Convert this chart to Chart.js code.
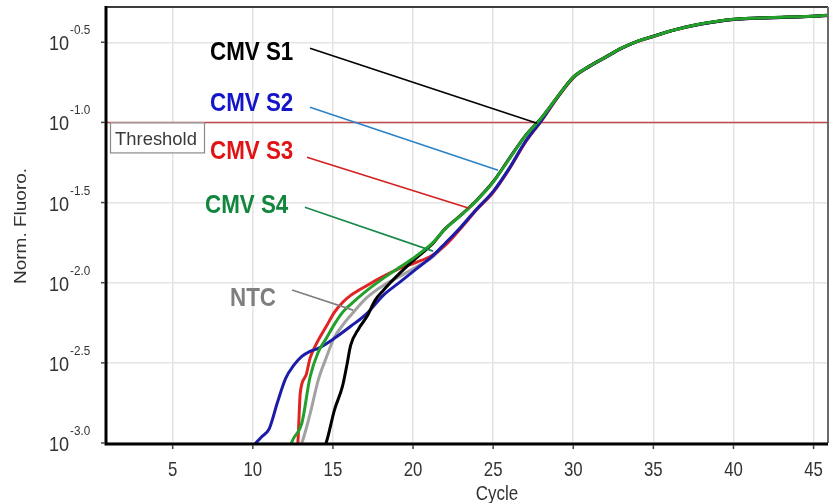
<!DOCTYPE html>
<html lang="en">
<head>
<meta charset="UTF-8">
<title>Norm. Fluoro. - Cycle</title>
<script src="https://cdn.jsdelivr.net/npm/chart.js@4"></script>
<style>
  html, body { margin: 0; padding: 0; background: #fff; }
</style>
</head>
<body>
<canvas id="pcrChart" width="831" height="503"></canvas>

<script>
// tick positions
var xTicks = [5, 10, 15, 20, 25, 30, 35, 40, 45];
var yTickExps = [-3.0, -2.5, -2.0, -1.5, -1.0, -0.5];
var yTickLabels = ['-3.0', '-2.5', '-2.0', '-1.5', '-1.0', '-0.5'];
var thresholdExp = -1.0;

// cycles of the part where all curves run together
var tailCycles = [22, 23, 24, 25, 26, 27, 28, 29, 30, 31, 32, 33, 34, 35, 36, 37, 38, 39, 40, 41, 42, 43, 44, 45, 45.9];

// CMV S1 (black) - values are log10(Norm. Fluoro.)
var s1Cycles = [14.08, 14.59, 15.09, 15.6, 15.86, 16.11, 16.62, 17.13, 17.63, 18.14, 19.16, 20.17, 21.19].concat(tailCycles);
var s1Log = [-3.1, -2.995, -2.796, -2.645, -2.52, -2.39, -2.285, -2.21, -2.11, -2.048, -1.942, -1.848, -1.76,
  -1.664, -1.577, -1.482, -1.37, -1.226, -1.084, -0.973, -0.842, -0.717, -0.649, -0.593, -0.537, -0.494, -0.462,
  -0.431, -0.405, -0.385, -0.369, -0.357, -0.35, -0.347, -0.344, -0.341, -0.337, -0.332];

// CMV S2 (blue)
var s2Cycles = [9.51, 10.02, 10.52, 11.03, 11.54, 12.05, 12.55, 13.06, 13.57, 14.08, 15.09, 16.11, 17.13, 18.14,
  19.16, 20.17, 21.19].concat(tailCycles);
var s2Log = [-3.2, -3.03, -2.965, -2.91, -2.746, -2.597, -2.516, -2.46, -2.428, -2.41, -2.347, -2.272, -2.191,
  -2.079, -1.998, -1.917, -1.836,
  -1.755, -1.652, -1.538, -1.432, -1.288, -1.122, -0.99, -0.845, -0.72, -0.651, -0.595, -0.538, -0.494, -0.463,
  -0.432, -0.406, -0.386, -0.37, -0.358, -0.351, -0.348, -0.345, -0.342, -0.338, -0.333];

// CMV S3 (red)
var s3Cycles = [12.55, 12.81, 12.96, 13.32, 13.57, 14.08, 14.59, 15.09, 15.6, 16.11, 17.13, 18.14, 19.16, 20.17,
  21.19].concat(tailCycles);
var s3Log = [-3.1, -3.0, -2.69, -2.578, -2.472, -2.36, -2.272, -2.185, -2.123, -2.079, -2.017, -1.961, -1.911,
  -1.874, -1.83,
  -1.768, -1.658, -1.542, -1.437, -1.292, -1.126, -0.992, -0.848, -0.722, -0.652, -0.596, -0.539, -0.495, -0.464,
  -0.432, -0.407, -0.386, -0.37, -0.358, -0.351, -0.348, -0.345, -0.342, -0.338, -0.333];

// CMV S4 (green)
var s4Cycles = [12.05, 12.55, 13.06, 13.57, 14.08, 14.59, 15.09, 15.6, 16.11, 17.13, 18.14, 19.16, 20.17,
  21.19].concat(tailCycles);
var s4Log = [-3.08, -2.97, -2.877, -2.59, -2.434, -2.347, -2.26, -2.185, -2.135, -2.048, -1.973, -1.904, -1.836,
  -1.755,
  -1.666, -1.579, -1.485, -1.373, -1.229, -1.086, -0.975, -0.843, -0.718, -0.65, -0.594, -0.537, -0.494, -0.463,
  -0.431, -0.406, -0.385, -0.369, -0.357, -0.35, -0.347, -0.344, -0.341, -0.337, -0.332];

// NTC (grey)
var ntcCycles = [12.55, 13.06, 13.57, 14.08, 14.59, 15.09, 15.6, 16.11, 17.13, 18.14, 19.16, 20.17,
  21.19].concat(tailCycles);
var ntcLog = [-3.1, -3.0, -2.82, -2.609, -2.466, -2.341, -2.266, -2.204, -2.092, -2.017, -1.961, -1.904, -1.842,
  -1.762, -1.65, -1.536, -1.43, -1.285, -1.12, -0.99, -0.846, -0.721, -0.652, -0.596, -0.539, -0.495, -0.464,
  -0.432, -0.407, -0.386, -0.37, -0.358, -0.351, -0.348, -0.345, -0.342, -0.338, -0.333];

// turn cycle / log10 pairs into points for the log axis
function toPoints(cycles, logs) {
    return cycles.map(function(c, i) {
        return { x: c, y: Math.pow(10, logs[i]) };
    });
}

function curve(cycles, logs, color) {
    return {
        data: toPoints(cycles, logs),
        borderColor: color,
        borderWidth: 3,
        pointRadius: 0,
        fill: false,
        cubicInterpolationMode: 'monotone'
    };
}

// label text, colours, where the label sits and where its pointer line runs (cycle, log10)
var callouts = [
    { text: 'CMV S1', color: '#000000', line: '#000000', at: [7.33, -0.612], from: [13.57, -0.537], to: [27.74, -1.005] },
    { text: 'CMV S2', color: '#1414c8', line: '#2b83c6', at: [7.33, -0.930], from: [13.57, -0.905], to: [25.31, -1.298] },
    { text: 'CMV S3', color: '#e01414', line: '#d42020', at: [7.33, -1.229], from: [13.38, -1.217], to: [23.5, -1.535] },
    { text: 'CMV S4', color: '#12863c', line: '#1a8a4a', at: [7.02, -1.566], from: [13.25, -1.529], to: [21.25, -1.803] },
    { text: 'NTC', color: '#7f7f7f', line: '#808080', at: [8.58, -2.146], from: [12.45, -2.046], to: [16.26, -2.171] }
];

var FONT = '"Liberation Sans", Arial, sans-serif';

function drawText(ctx, txt, x, y, font, color, align, sx) {
    ctx.save();
    ctx.font = font;
    ctx.fillStyle = color;
    ctx.textAlign = align;
    ctx.textBaseline = 'alphabetic';
    ctx.translate(x, y);
    ctx.scale(sx, 1);
    ctx.fillText(txt, 0, 0);
    ctx.restore();
}

var overlay = {
    id: 'overlay',
    beforeDatasetsDraw: function(chart) {
        var ctx = chart.ctx, area = chart.chartArea;
        var ty = chart.scales.y.getPixelForValue(Math.pow(10, thresholdExp));
        ctx.save();
        ctx.strokeStyle = '#c44848';
        ctx.lineWidth = 1.5;
        ctx.beginPath();
        ctx.moveTo(area.left, ty);
        ctx.lineTo(area.right, ty);
        ctx.stroke();
        ctx.restore();
    },
    afterDatasetsDraw: function(chart) {
        var ctx = chart.ctx, area = chart.chartArea;
        var xs = chart.scales.x, ys = chart.scales.y;
        function px(p) { return [xs.getPixelForValue(p[0]), ys.getPixelForValue(Math.pow(10, p[1]))]; }

        // pointer lines and labels
        callouts.forEach(function(c) {
            var a = px(c.from), b = px(c.to), t = px(c.at);
            ctx.save();
            ctx.strokeStyle = c.line;
            ctx.lineWidth = 1.6;
            ctx.beginPath();
            ctx.moveTo(a[0], a[1]);
            ctx.lineTo(b[0], b[1]);
            ctx.stroke();
            ctx.restore();
            drawText(ctx, c.text, t[0], t[1], 'bold 26px ' + FONT, c.color, 'left', 0.86);
        });

        // threshold tag
        var ty = ys.getPixelForValue(Math.pow(10, thresholdExp));
        ctx.save();
        ctx.fillStyle = '#ffffff';
        ctx.fillRect(area.left + 3, ty, 94, 31);
        ctx.strokeStyle = '#8a8a8a';
        ctx.lineWidth = 1.2;
        ctx.strokeRect(area.left + 3.5, ty + 0.5, 94, 30);
        ctx.restore();
        drawText(ctx, 'Threshold', area.left + 8, ty + 23, '19px ' + FONT, '#3a3a3a', 'left', 0.97);

        // frame
        ctx.save();
        ctx.strokeStyle = '#3c3c3c';
        ctx.lineWidth = 2;
        ctx.beginPath();
        ctx.moveTo(area.left, area.top);
        ctx.lineTo(area.right, area.top);
        ctx.stroke();
        ctx.strokeStyle = '#6a6a6a';
        ctx.beginPath();
        ctx.moveTo(area.right, area.top);
        ctx.lineTo(area.right, area.bottom);
        ctx.stroke();
        ctx.strokeStyle = '#000000';
        ctx.lineWidth = 3;
        ctx.beginPath();
        ctx.moveTo(area.left - 1, area.top - 1);
        ctx.lineTo(area.left - 1, area.bottom + 1);
        ctx.lineTo(area.right, area.bottom + 1);
        ctx.stroke();

        // tick marks
        ctx.lineWidth = 1.5;
        ctx.strokeStyle = '#444';
        yTickExps.forEach(function(e) {
            var y = ys.getPixelForValue(Math.pow(10, e));
            ctx.beginPath();
            ctx.moveTo(area.left - 6, y);
            ctx.lineTo(area.left - 2, y);
            ctx.stroke();
        });
        xTicks.forEach(function(v) {
            var x = xs.getPixelForValue(v);
            ctx.beginPath();
            ctx.moveTo(x, area.bottom + 2);
            ctx.lineTo(x, area.bottom + 6);
            ctx.stroke();
        });
        ctx.restore();

        // tick labels
        yTickExps.forEach(function(e, i) {
            var y = ys.getPixelForValue(Math.pow(10, e));
            drawText(ctx, '10', 69, y + 8, '21px ' + FONT, '#333', 'right', 0.86);
            drawText(ctx, yTickLabels[i], 70, y - 8, '13px ' + FONT, '#333', 'left', 0.9);
        });
        xTicks.forEach(function(v) {
            drawText(ctx, String(v), xs.getPixelForValue(v), 476, '21px ' + FONT, '#333', 'center', 0.8);
        });

        // axis titles
        drawText(ctx, 'Cycle', 497, 500, '20px ' + FONT, '#333', 'center', 0.85);
        ctx.save();
        ctx.translate(26, 226);
        ctx.rotate(-Math.PI / 2);
        ctx.scale(1, 0.85);
        ctx.font = '19px ' + FONT;
        ctx.fillStyle = '#333';
        ctx.textAlign = 'center';
        ctx.fillText('Norm. Fluoro.', 0, 0);
        ctx.restore();
    }
};

var ctx = document.getElementById('pcrChart').getContext('2d');

// green first so it sits on top of the band, grey last (bottom)
var pcrChart = new Chart(ctx, {
    type: 'line',
    data: {
        datasets: [
            curve(s4Cycles, s4Log, '#22a02a'),
            curve(s1Cycles, s1Log, '#000000'),
            curve(s2Cycles, s2Log, '#1c1ca8'),
            curve(s3Cycles, s3Log, '#e02424'),
            curve(ntcCycles, ntcLog, '#a2a2a2')
        ]
    },
    options: {
        responsive: false,
        animation: false,
        layout: { padding: { top: 7, right: 3, left: 0, bottom: 0 } },
        plugins: {
            legend: { display: false },
            tooltip: { enabled: false }
        },
        scales: {
            x: {
                type: 'linear',
                min: 0.9,
                max: 45.9,
                afterBuildTicks: function(s) { s.ticks = xTicks.map(function(v) { return { value: v }; }); },
                afterFit: function(s) { s.height = 60; },
                ticks: { display: false },
                grid: { color: '#e4e4e4', lineWidth: 1.5, drawTicks: false },
                border: { display: false }
            },
            y: {
                type: 'logarithmic',
                min: Math.pow(10, -3.0),
                max: Math.pow(10, -0.28),
                afterBuildTicks: function(s) { s.ticks = yTickExps.map(function(e) { return { value: Math.pow(10, e) }; }); },
                afterFit: function(s) { s.width = 107; },
                ticks: { display: false },
                grid: { color: '#e4e4e4', lineWidth: 1.5, drawTicks: false },
                border: { display: false }
            }
        }
    },
    plugins: [overlay]
});
</script>
</body>
</html>
